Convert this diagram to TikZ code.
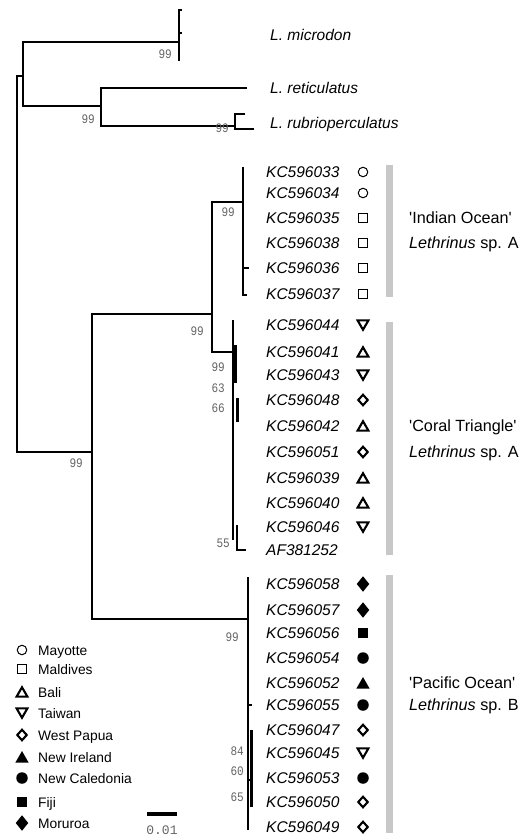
\documentclass[tikz,border=0pt]{standalone}
\usepackage{fontspec}
\setmainfont{Liberation Sans}
\newfontfamily\bootf[FakeStretch=0.85]{Liberation Mono}
\newfontfamily\scalef{Liberation Mono}
\usetikzlibrary{shapes.geometric}
\definecolor{bootgray}{RGB}{100,100,100}
\definecolor{bargray}{RGB}{200,200,200}
\newcommand\tipsym[4]{\node[tip] (#1) at (266,#2) {#3}; \node[#4] (#1s) at (363,#2) {};}
\newcommand\legent[4]{\node[#4] (#1s) at (22,#2) {}; \node[leg] (#1) at (38,#2) {#3};}
\begin{document}
\begin{tikzpicture}[x=1pt,y=-1pt,
  br/.style={line width=2.8pt, line join=miter},
  thk/.style={line width=3.8pt},
  tip/.style={anchor=base west, inner sep=0pt, font=\fontsize{15.5}{18}\selectfont\itshape, yshift=-5.5pt},
  grp/.style={anchor=base west, inner sep=0pt, font=\fontsize{16.2}{19}\selectfont, yshift=-5.8pt},
  leg/.style={anchor=base west, inner sep=0pt, font=\fontsize{13.8}{16}\selectfont, yshift=-5pt},
  boot/.style={anchor=base east, inner sep=0pt, font=\fontsize{13}{15}\bootf, text=bootgray, yshift=-4.2pt},
  sym/.style={inner sep=0pt, outer sep=0pt},
  sMay/.style={sym, circle, draw, line width=1pt, minimum size=9.5pt},
  sMal/.style={sym, rectangle, draw, line width=1pt, minimum size=8.5pt},
  sBali/.style={sym, regular polygon, regular polygon sides=3, draw, line width=2.1pt, minimum size=12.5pt, yshift=-1.5pt},
  sTai/.style={sym, regular polygon, regular polygon sides=3, shape border rotate=180, draw, line width=2.1pt, minimum size=12.5pt, yshift=1.5pt},
  sWP/.style={sym, diamond, draw, line width=2.1pt, minimum width=9.5pt, minimum height=10.5pt},
  sNI/.style={sym, regular polygon, regular polygon sides=3, fill, minimum size=15.5pt, yshift=-1.8pt},
  sNC/.style={sym, circle, fill, minimum size=11.5pt},
  sFiji/.style={sym, rectangle, fill, minimum size=9.5pt},
  sMor/.style={sym, diamond, fill, minimum width=12.5pt, minimum height=15.5pt},
  bar/.style={fill=bargray, draw=none}
]
\useasboundingbox (0,0) rectangle (528,837);

% ---- tree coordinates ----
\coordinate (root) at (17,300);
\coordinate (og) at (23,76);
\coordinate (ing) at (92,452);
\coordinate (mic) at (179,42);
\coordinate (micT) at (182,10);
\coordinate (micB) at (179,61);
\coordinate (micM) at (179,33);
\coordinate (micMr) at (182,33);
\coordinate (rr) at (101,106);
\coordinate (ret) at (247,88);
\coordinate (rub) at (235,126);
\coordinate (rubT) at (245,114);
\coordinate (rubB) at (254,129);
\coordinate (ioct) at (212,314);
\coordinate (pac) at (248,619);
\coordinate (io) at (243,202);
\coordinate (ct) at (233,352);
\coordinate (ioT) at (243,167);
\coordinate (ioB) at (243,295);
\coordinate (io37) at (247,295);
\coordinate (io36a) at (243,268);
\coordinate (io36) at (249,268);
\coordinate (ctT) at (233,320);
\coordinate (ctB) at (233,540);
\coordinate (ctS) at (237,525);
\coordinate (af) at (246,550);
\coordinate (pacT) at (248,577);
\coordinate (pacB) at (248,830);

% ---- branches ----
\draw[br] (og) -| (root) |- (ing);
\draw[br] (mic) -| (og) |- (rr);
\draw[br] (micT) -| (mic) |- (micB);
\draw[br] (micM) -- (micMr);
\draw[br] (ret) -| (rr) |- (rub);
\draw[br] (rubT) -| (rub) |- (rubB);
\draw[br] (ioct) -| (ing) |- (pac);
\draw[br] (io) -| (ioct) |- (ct);
\draw[br] (ioT) -- (ioB) -- (io37);
\draw[br] (io36a) -- (io36);
\draw[br] (ctT) -- (ctB);
\draw[br] (ctS) |- (af);
\draw[thk] (235,345) -- (235,383);
\draw[thk] (237.5,398) -- (237.5,422);
\draw[br] (pacT) -- (pacB);
\draw[thk] (251.5,730) -- (251.5,807);
\draw[br] (248,705) -- (252,705);
\draw[br] (248,780) -- (252,780);

% ---- bootstrap values ----
\node[boot] (b1) at (172,54) {99};
\node[boot] (b2) at (95,119) {99};
\node[boot] (b3) at (229,128) {99};
\node[boot] (b4) at (83,463) {99};
\node[boot] (b5) at (204,331) {99};
\node[boot] (b6) at (235,212) {99};
\node[boot] (b7) at (225,367) {99};
\node[boot] (b8) at (225,388) {63};
\node[boot] (b9) at (225,408) {66};
\node[boot] (b10) at (230,543) {55};
\node[boot] (b11) at (239,637) {99};
\node[boot] (b12) at (244,751) {84};
\node[boot] (b13) at (244,771) {60};
\node[boot] (b14) at (244,797) {65};

% ---- outgroup labels ----
\node[tip] (lmic) at (270,35) {L. microdon};
\node[tip] (lret) at (270,88) {L. reticulatus};
\node[tip] (lrub) at (270,123) {L. rubrioperculatus};

% ---- grey bars ----
\fill[bar] (386,165) rectangle (393,297);
\fill[bar] (386,322) rectangle (393,555);
\fill[bar] (386,575) rectangle (393,833);

% ---- tips ----
\tipsym{t33}{172}{KC596033}{sMay}
\tipsym{t34}{193}{KC596034}{sMay}
\tipsym{t35}{218}{KC596035}{sMal}
\tipsym{t38}{243}{KC596038}{sMal}
\tipsym{t36}{268}{KC596036}{sMal}
\tipsym{t37}{294}{KC596037}{sMal}

\tipsym{t44}{325}{KC596044}{sTai}
\tipsym{t41}{352}{KC596041}{sBali}
\tipsym{t43}{375}{KC596043}{sTai}
\tipsym{t48}{400}{KC596048}{sWP}
\tipsym{t42}{426}{KC596042}{sBali}
\tipsym{t51}{452}{KC596051}{sWP}
\tipsym{t39}{478}{KC596039}{sBali}
\tipsym{t40}{503}{KC596040}{sBali}
\tipsym{t46}{527}{KC596046}{sTai}
\node[tip] (taf) at (266,550) {AF381252};

\tipsym{t58}{584}{KC596058}{sMor}
\tipsym{t57}{610}{KC596057}{sMor}
\tipsym{t56}{633}{KC596056}{sFiji}
\tipsym{t54}{658}{KC596054}{sNC}
\tipsym{t52}{683}{KC596052}{sNI}
\tipsym{t55}{705}{KC596055}{sNC}
\tipsym{t47}{730}{KC596047}{sWP}
\tipsym{t45}{753}{KC596045}{sTai}
\tipsym{t53}{778}{KC596053}{sNC}
\tipsym{t50}{802}{KC596050}{sWP}
\tipsym{t49}{827}{KC596049}{sWP}

% ---- group labels ----
\node[grp] (g1a) at (409,218) {\textquotesingle Indian Ocean\textquotesingle};
\node[grp] (g1b) at (409,243) {\textit{Lethrinus} sp. A};
\node[grp] (g2a) at (409,426) {\textquotesingle Coral Triangle\textquotesingle};
\node[grp] (g2b) at (409,452) {\textit{Lethrinus} sp. A};
\node[grp] (g3a) at (409,683) {\textquotesingle Pacific Ocean\textquotesingle};
\node[grp] (g3b) at (409,705) {\textit{Lethrinus} sp. B};

% ---- legend ----
\legent{lMay}{650}{Mayotte}{sMay}
\legent{lMal}{669}{Maldives}{sMal}
\legent{lBal}{692}{Bali}{sBali}
\legent{lTai}{713}{Taiwan}{sTai}
\legent{lWP}{735}{West Papua}{sWP}
\legent{lNI}{757}{New Ireland}{sNI}
\legent{lNC}{778}{New Caledonia}{sNC}
\legent{lFi}{802}{Fiji}{sFiji}
\legent{lMo}{823}{Moruroa}{sMor}

% ---- scale bar ----
\coordinate (sbL) at (147,814);
\coordinate (sbR) at (177,814);
\draw[line width=4pt] (sbL) -- (sbR);
\node[anchor=base, inner sep=0pt, font=\fontsize{13}{15}\scalef, text=bootgray, yshift=-4.3pt] (sbt) at (162,830) {0.01};
\end{tikzpicture}
\end{document}
